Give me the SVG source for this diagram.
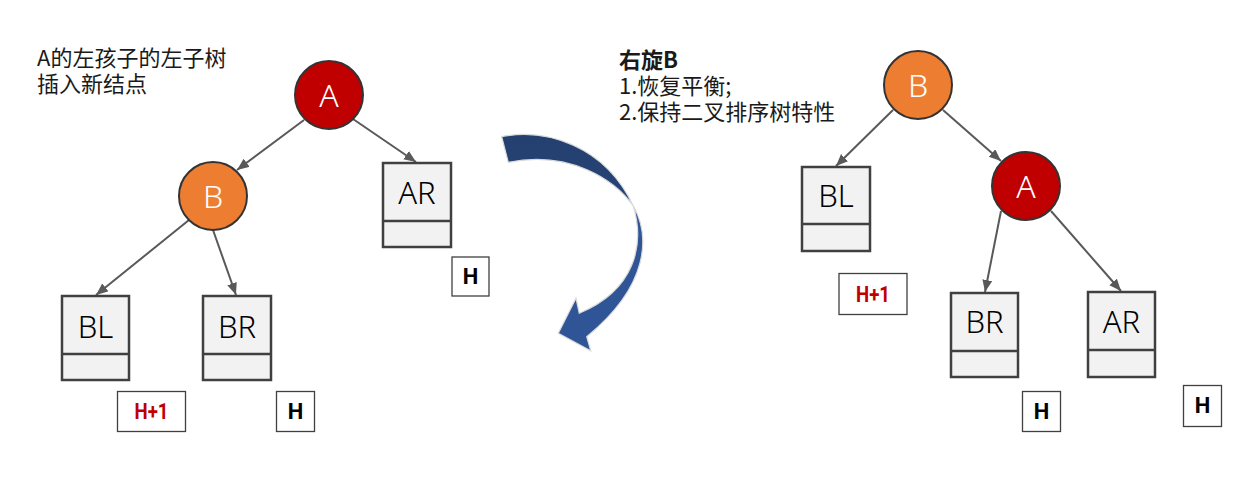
<svg xmlns="http://www.w3.org/2000/svg" width="1260" height="481" viewBox="0 0 1260 481">
<style>
.note{font-family:"Noto Sans CJK SC","Noto Sans",sans-serif;font-size:22px;fill:#1a1a1a}
.circle{stroke:#333;stroke-width:2}
.ca{fill:#c00000}
.cb{fill:#ed7d31}
.clab{font-family:"Noto Sans","Noto Sans CJK SC",sans-serif;font-weight:300;font-size:32px;fill:#fff;text-anchor:middle}
.box{fill:#f2f2f2;stroke:#404040;stroke-width:2.5}
.blab{font-family:"Noto Sans","Noto Sans CJK SC",sans-serif;font-weight:300;font-size:31px;fill:#000;text-anchor:middle}
.hbox{fill:#fff;stroke:#404040;stroke-width:1.3}
.h{font-family:"Roboto","Liberation Sans",sans-serif;font-weight:bold;font-size:22px;fill:#000;text-anchor:middle}
.hr{fill:#c00000}
.edge{stroke:#595959;stroke-width:2;fill:none;marker-end:url(#ah)}
</style>
<defs>
<marker id="ah" markerUnits="userSpaceOnUse" markerWidth="13" markerHeight="11" refX="12" refY="5" orient="auto">
<path d="M0,0 L12,5 L0,10 Z" fill="#595959"/>
</marker>
<linearGradient id="g1" x1="0" y1="0" x2="0" y2="1">
<stop offset="0" stop-color="#24406f"/>
<stop offset="1" stop-color="#264478"/>
</linearGradient>
</defs>

<g id="note-left">
<text class="note" x="37" y="66">A的左孩子的左子树</text>
<text class="note" x="37" y="92">插入新结点</text>
</g>
<g id="note-right">
<text class="note" x="619" y="68" font-weight="bold">右旋B</text>
<text class="note" x="619" y="94">1.恢复平衡;</text>
<text class="note" x="619" y="120">2.保持二叉排序树特性</text>
</g>

<g id="connectors">
<line class="edge" x1="304" y1="120" x2="237" y2="170"/>
<line class="edge" x1="353" y1="119" x2="416" y2="162"/>
<line class="edge" x1="189" y1="220" x2="96" y2="295"/>
<line class="edge" x1="213" y1="230" x2="236" y2="295"/>
<line class="edge" x1="893" y1="110" x2="836" y2="166"/>
<line class="edge" x1="943" y1="110" x2="1001" y2="161"/>
<line class="edge" x1="1001" y1="211" x2="985" y2="292"/>
<line class="edge" x1="1051" y1="211" x2="1121" y2="291"/>
</g>

<g id="rotate-arrow">
<path d="M501.7,136.7 C545,128 605,145 633.3,206 C615,180 570,150 508.3,162.3 Z" fill="url(#g1)" stroke="#d9d9d9" stroke-width="1.2"/>
<path d="M633.3,206 C650,235 650,285 586.7,336.7 L590.7,350.7 L558.3,333.3 L576,298.3 L579.3,313.3 C635,290 645,245 633.3,206 Z" fill="#2f5597" stroke="#d9d9d9" stroke-width="1.2"/>
</g>

<g id="L-A">
<circle class="circle ca" cx="329" cy="95" r="34"/>
<text class="clab" x="329" y="107">A</text>
</g>
<g id="L-B">
<circle class="circle cb" cx="213" cy="196" r="34"/>
<text class="clab" x="213" y="208">B</text>
</g>
<g id="L-AR">
<rect class="box" x="383" y="163" width="68" height="84"/>
<line class="box" x1="383" y1="221" x2="451" y2="221"/>
<text class="blab" x="417" y="204">AR</text>
</g>
<g id="L-BL">
<rect class="box" x="62" y="296" width="67" height="84"/>
<line class="box" x1="62" y1="354" x2="129" y2="354"/>
<text class="blab" x="95.5" y="338">BL</text>
</g>
<g id="L-BR">
<rect class="box" x="203" y="296" width="68" height="84"/>
<line class="box" x1="203" y1="354" x2="271" y2="354"/>
<text class="blab" x="237" y="338">BR</text>
</g>
<g id="L-H-AR">
<rect class="hbox" x="452" y="257" width="37" height="39"/>
<text class="h" x="470.5" y="284">H</text>
</g>
<g id="L-H1-BL">
<rect class="hbox" x="117.5" y="391.5" width="68" height="40"/>
<text class="h hr" x="151.5" y="419" textLength="34" lengthAdjust="spacingAndGlyphs">H+1</text>
</g>
<g id="L-H-BR">
<rect class="hbox" x="276.5" y="391.5" width="38" height="40"/>
<text class="h" x="295.5" y="419">H</text>
</g>

<g id="R-B">
<circle class="circle cb" cx="918" cy="85" r="34"/>
<text class="clab" x="918" y="97">B</text>
</g>
<g id="R-A">
<circle class="circle ca" cx="1026" cy="186" r="34"/>
<text class="clab" x="1026" y="198">A</text>
</g>
<g id="R-BL">
<rect class="box" x="802" y="167" width="68" height="84"/>
<line class="box" x1="802" y1="224" x2="870" y2="224"/>
<text class="blab" x="836" y="207">BL</text>
</g>
<g id="R-BR">
<rect class="box" x="951" y="293" width="67" height="84"/>
<line class="box" x1="951" y1="351" x2="1018" y2="351"/>
<text class="blab" x="984.5" y="333">BR</text>
</g>
<g id="R-AR">
<rect class="box" x="1088" y="292" width="67" height="85"/>
<line class="box" x1="1088" y1="350" x2="1155" y2="350"/>
<text class="blab" x="1121.5" y="333">AR</text>
</g>
<g id="R-H1-BL">
<rect class="hbox" x="839" y="273.5" width="68" height="41"/>
<text class="h hr" x="873" y="301.5" textLength="34" lengthAdjust="spacingAndGlyphs">H+1</text>
</g>
<g id="R-H-BR">
<rect class="hbox" x="1022.5" y="391.5" width="38" height="40"/>
<text class="h" x="1041.5" y="419">H</text>
</g>
<g id="R-H-AR">
<rect class="hbox" x="1183.5" y="385.5" width="38" height="41"/>
<text class="h" x="1202.5" y="413">H</text>
</g>
</svg>
